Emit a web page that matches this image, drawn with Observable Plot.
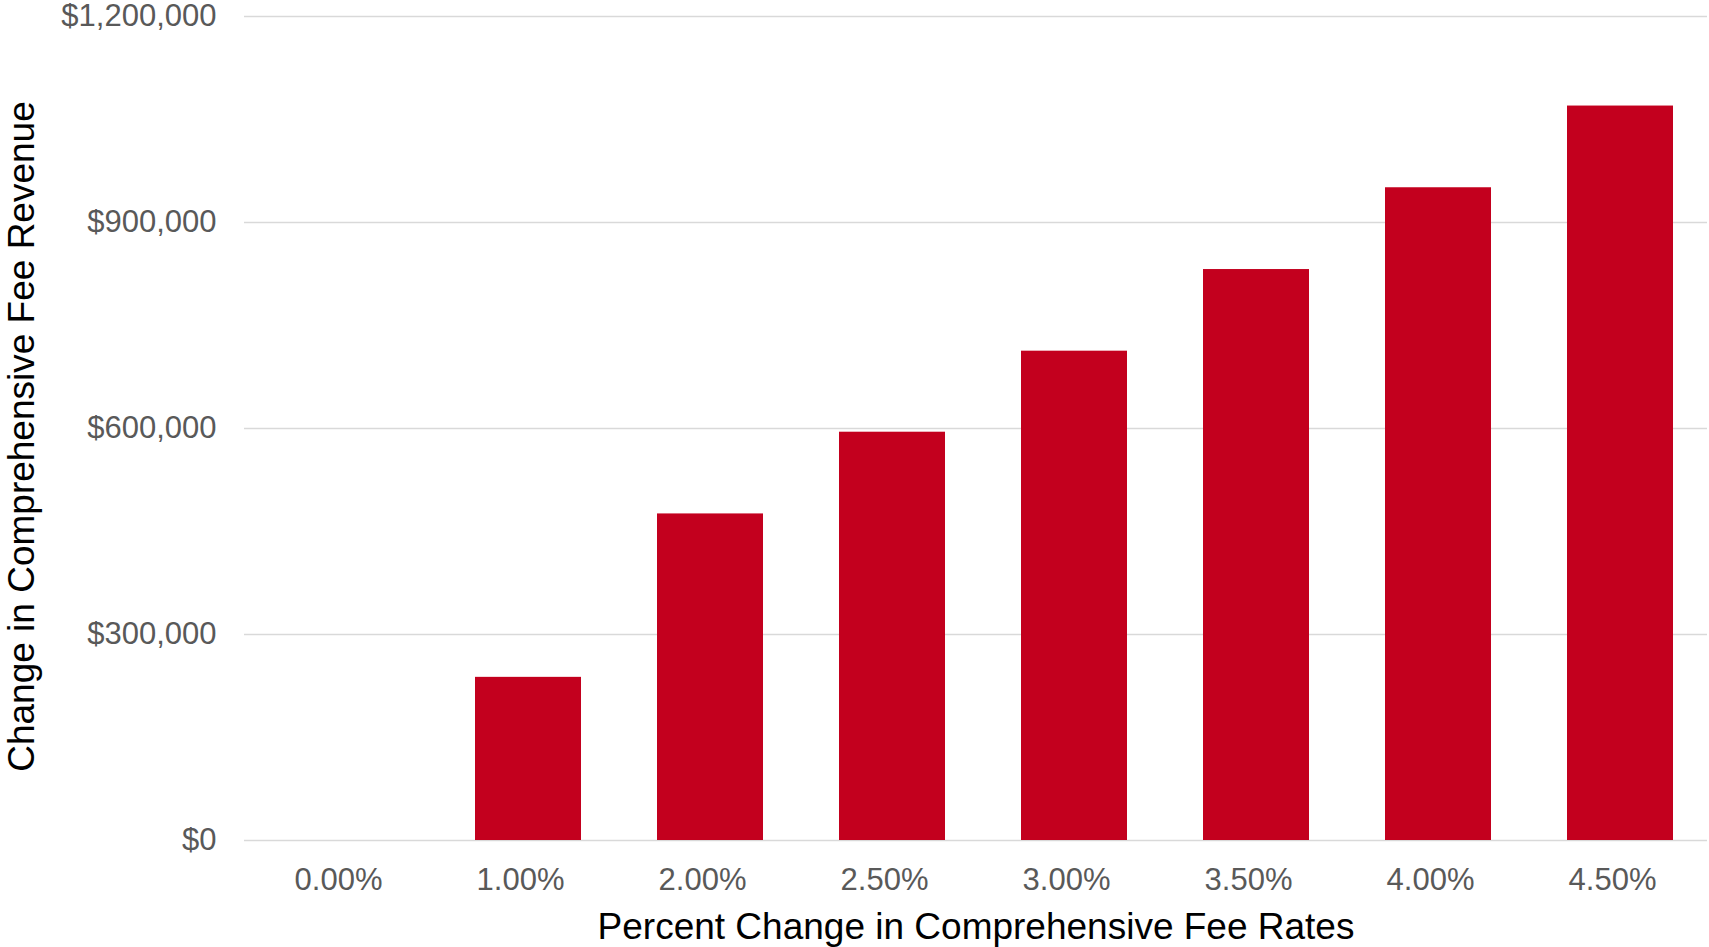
<!DOCTYPE html>
<html><head><meta charset="utf-8">
<script src="https://cdn.jsdelivr.net/npm/d3@7"></script>
<script src="https://cdn.jsdelivr.net/npm/@observablehq/plot@0.6"></script>
<style>html,body{margin:0;padding:0;background:#fff;overflow:hidden}</style>
</head><body><div id="chart"></div>
<script>
const categories = ["0.00%", "1.00%", "2.00%", "2.50%", "3.00%", "3.50%", "4.00%", "4.50%"];
const revenue = [0, 237600, 475600, 594600, 712600, 831500, 950600, 1069600];
const yTicks = [0, 300000, 600000, 900000, 1200000];
const xTitle = "Percent Change in Comprehensive Fee Rates";
const yTitle = "Change in Comprehensive Fee Revenue";

const data = categories.map((c, i) => ({rate: c, value: revenue[i]}));
const fmt = d3.format("$,");

const chart = Plot.plot({
  width: 1709, height: 947,
  marginLeft: 244, marginRight: 2, marginTop: 16, marginBottom: 107,
  style: {fontFamily: "'Liberation Sans', Arial, sans-serif", background: "#fff", overflow: "visible"},
  x: {domain: categories, paddingInner: 0.415, paddingOuter: 0.2075},
  y: {domain: [0, 1200000]},
  marks: [
    Plot.gridY(yTicks, {stroke: "#d9d9d9", strokeOpacity: 1, strokeWidth: 1.5}),
    Plot.barY(data, {x: "rate", y: "value", fill: "#c3001e", dx: 8}),
    Plot.axisY(yTicks, {tickSize: 0, tickPadding: 28, fontSize: 31, tickFormat: fmt, fill: "#595959", label: null}),
    Plot.axisX({tickSize: 0, tickPadding: 27, fontSize: 31, fill: "#595959", label: null}),
    Plot.text([xTitle], {text: d => d, frameAnchor: "bottom", lineAnchor: "bottom", dy: 98, fontSize: 37, fill: "#000"}),
    Plot.text([yTitle], {text: d => d, frameAnchor: "left", textAnchor: "middle", lineAnchor: "bottom", rotate: -90, dx: -211, dy: 8, fontSize: 37, fill: "#000"})
  ]
});
document.getElementById("chart").appendChild(chart);
</script>
</body></html>
